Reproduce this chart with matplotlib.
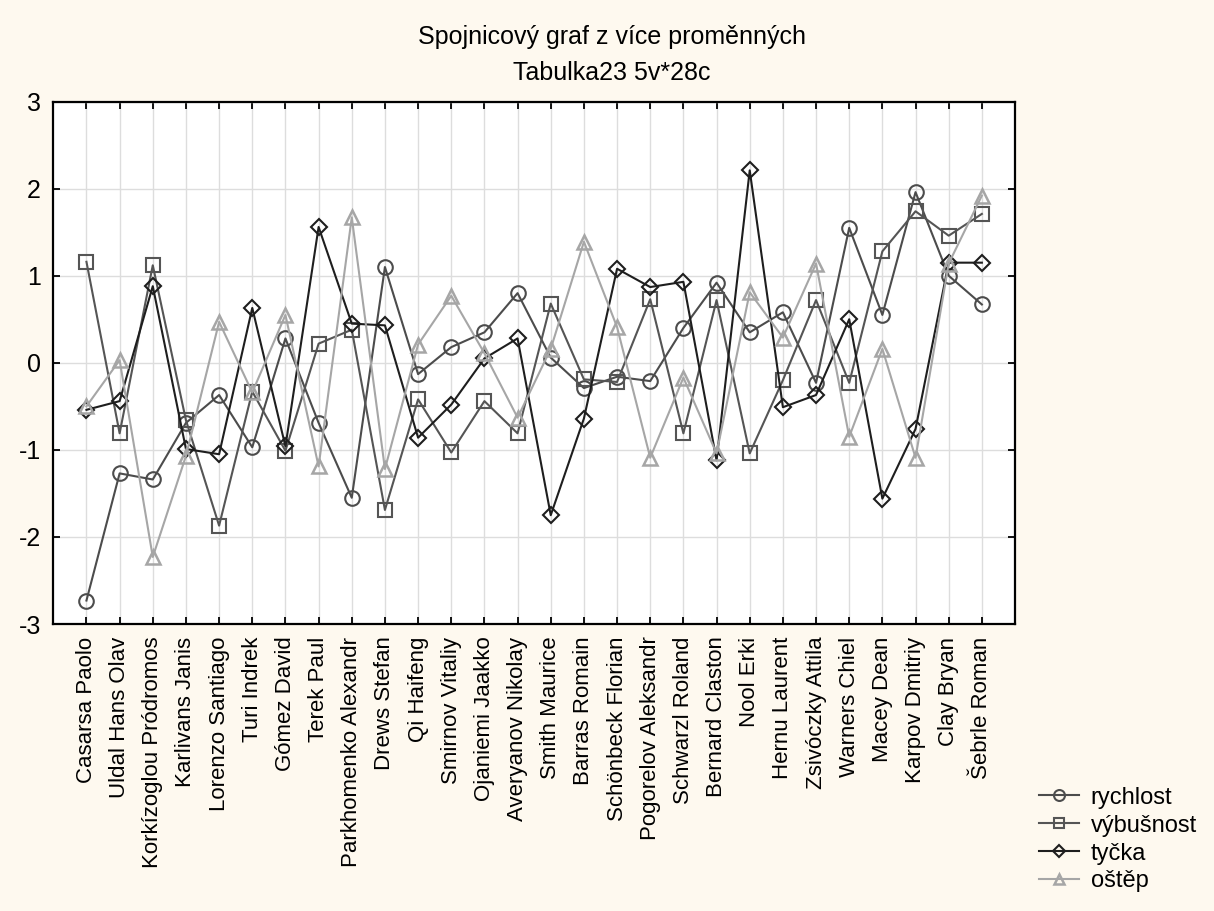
import matplotlib
matplotlib.use("Agg")
import matplotlib.pyplot as plt

plt.rcParams['font.family'] = ['Liberation Sans', 'DejaVu Sans']

# jména závodníků (kategorie na ose x)
jmena = ["Casarsa Paolo", "Uldal Hans Olav", "Korkízoglou Pródromos", "Karlivans Janis",
         "Lorenzo Santiago", "Turi Indrek", "Gómez David", "Terek Paul",
         "Parkhomenko Alexandr", "Drews Stefan", "Qi Haifeng", "Smirnov Vitaliy",
         "Ojaniemi Jaakko", "Averyanov Nikolay", "Smith Maurice", "Barras Romain",
         "Schönbeck Florian", "Pogorelov Aleksandr", "Schwarzl Roland", "Bernard Claston",
         "Nool Erki", "Hernu Laurent", "Zsivóczky Attila", "Warners Chiel",
         "Macey Dean", "Karpov Dmitriy", "Clay Bryan", "Šebrle Roman"]

rychlost = [-2.73, -1.27, -1.34, -0.69, -0.37, -0.97, 0.28, -0.69, -1.55, 1.10,
            -0.13, 0.18, 0.35, 0.80, 0.06, -0.29, -0.16, -0.21, 0.40, 0.92,
            0.35, 0.58, -0.23, 1.55, 0.55, 1.96, 1.00, 0.67]
vybusnost = [1.16, -0.81, 1.12, -0.66, -1.87, -0.33, -1.01, 0.22, 0.38, -1.69,
             -0.42, -1.03, -0.44, -0.81, 0.68, -0.19, -0.22, 0.73, -0.81, 0.72,
             -1.04, -0.20, 0.72, -0.23, 1.28, 1.74, 1.46, 1.71]
tycka = [-0.54, -0.44, 0.88, -0.99, -1.05, 0.63, -0.96, 1.56, 0.45, 0.43,
         -0.86, -0.48, 0.05, 0.28, -1.75, -0.64, 1.08, 0.87, 0.93, -1.12,
         2.21, -0.51, -0.37, 0.50, -1.56, -0.76, 1.15, 1.15]
ostep = [-0.50, 0.03, -2.23, -1.07, 0.47, -0.34, 0.55, -1.19, 1.67, -1.22,
         0.21, 0.77, 0.11, -0.63, 0.16, 1.39, 0.41, -1.09, -0.17, -1.04,
         0.81, 0.29, 1.14, -0.85, 0.16, -1.09, 1.14, 1.92]

x = list(range(1, len(jmena) + 1))

fig = plt.figure(figsize=(12.14, 9.11), dpi=100, facecolor='#FEF9EF')
ax = fig.add_axes([0.0439, 0.315, 0.7922, 0.5735])
ax.set_facecolor('white')

ax.plot(x, rychlost, color='#4C4C4C', lw=1.5, marker='o', ms=10.5, mfc='none',
        mec='#4C4C4C', mew=1.5, label='rychlost')
ax.plot(x, vybusnost, color='#555555', lw=1.5, marker='s', ms=10.5, mfc='none',
        mec='#555555', mew=1.5, label='výbušnost')
ax.plot(x, tycka, color='#1E1E1E', lw=1.5, marker='D', ms=8, mfc='none',
        mec='#1E1E1E', mew=1.5, label='tyčka')
ax.plot(x, ostep, color='#A6A6A6', lw=1.5, marker='^', ms=9.5, mfc='none',
        mec='#A6A6A6', mew=1.8, label='oštěp')

ax.set_xlim(0, 29)
ax.set_ylim(-3, 3)
ax.set_xticks(x)
ax.set_xticklabels(jmena, rotation=90, fontsize=16)
ax.set_yticks([-3, -2, -1, 0, 1, 2, 3])
ax.set_yticklabels(['-3', '-2', '-1', '0', '1', '2', '3'], fontsize=18)
ax.tick_params(direction='in', length=5, width=1.3, top=True, right=True,
               pad=9, colors='black')
ax.grid(True, color='#DDDDDD', lw=1.0)
ax.set_axisbelow(True)
for s in ax.spines.values():
    s.set_linewidth(1.6)

fig.text(0.504, 0.959, "Spojnicový graf z více proměnných", ha='center', va='center', fontsize=18)
fig.text(0.504, 0.920, "Tabulka23 5v*28c", ha='center', va='center', fontsize=18)

fig.legend(loc='lower left', bbox_to_anchor=(0.848, 0.010), frameon=False, fontsize=17,
           handlelength=1.7, handletextpad=0.5, labelspacing=0.25, borderaxespad=0,
           markerscale=0.75)

fig.savefig('out.png', dpi=100, facecolor=fig.get_facecolor())
